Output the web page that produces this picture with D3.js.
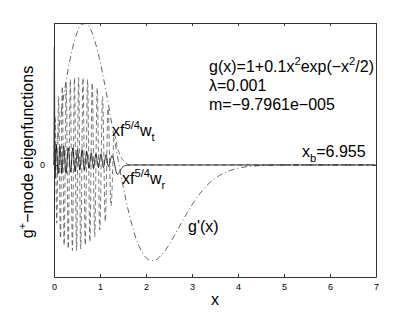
<!DOCTYPE html>
<html>
<head>
<script src="https://d3js.org/d3.v7.min.js"></script>
<style>body{margin:0;background:#fff}</style>
</head>
<body>
<svg width="415" height="313"></svg>
<script>
// axis ticks
var xTicks = [0, 1, 2, 3, 4, 5, 6, 7];
var yTicks = [0];

// g'(x)
var gpX = [0, 0.1, 0.2, 0.3, 0.4, 0.5, 0.6, 0.7, 0.8, 0.9, 1.0, 1.1, 1.2, 1.3, 1.4, 1.5, 1.6, 1.7, 1.8, 1.9,
           2.0, 2.1, 2.2, 2.3, 2.4, 2.5, 2.6, 2.7, 2.8, 2.9, 3.0, 3.2, 3.4, 3.6, 3.8, 4.0, 4.4, 4.8, 5.2, 6.0, 7.0];
var gpY = [0, 0.0198, 0.0384, 0.0548, 0.0679, 0.0772, 0.0822, 0.0827, 0.0790, 0.0714, 0.0607, 0.0475, 0.0327,
           0.0173, 0.0021, -0.0122, -0.0249, -0.0357, -0.0442, -0.0503, -0.0541, -0.0558, -0.0556, -0.0537,
           -0.0506, -0.0467, -0.0421, -0.0373, -0.0324, -0.0277, -0.0233, -0.0158, -0.0100, -0.0061, -0.0035,
           -0.0019, -0.0005, -0.0001, 0, 0, 0];

// x f^{5/4} w_t (dashed): turning points
var wtX = [0, 0.025, 0.06, 0.10, 0.14, 0.18, 0.22, 0.265, 0.31, 0.355, 0.40, 0.445, 0.49, 0.535, 0.58,
           0.63, 0.68, 0.73, 0.78, 0.83, 0.885, 0.94, 0.995, 1.055, 1.115, 1.175, 1.24, 1.31, 1.38, 1.45,
           1.55, 1.65, 6.955];
var wtY = [0, 0.028, -0.034, 0.040, -0.043, 0.046, -0.047, 0.048, -0.049, 0.050, -0.050, 0.051, -0.050,
           0.051, -0.049, 0.051, -0.047, 0.050, -0.045, 0.048, -0.042, 0.045, -0.038, 0.040, -0.033, 0.033,
           -0.024, 0.018, 0.010, 0.005, 0.0015, 0, 0];

// x f^{5/4} w_r (solid): turning points
var wrX = [0, 0.008, 0.02, 0.05, 0.09, 0.13, 0.17, 0.21, 0.26, 0.31, 0.36, 0.41, 0.46, 0.51, 0.56, 0.61,
           0.66, 0.71, 0.76, 0.81, 0.86, 0.91, 0.965, 1.02, 1.075, 1.13, 1.185, 1.26, 1.38, 1.48, 1.58, 1.70, 6.955];
var wrY = [0, 0.069, -0.008, 0.012, -0.005, 0.011, -0.005, 0.011, -0.005, 0.010, -0.004, 0.010, -0.004,
           0.009, -0.003, 0.009, -0.003, 0.008, -0.002, 0.007, -0.002, 0.0065, -0.0015, 0.0065, -0.0015,
           0.006, -0.001, 0.0055, -0.0055, -0.0015, -0.0002, 0, 0];

var svg = d3.select("svg"),
    padL = 54, padR = 376, padT = 23, padB = 277;

var x = d3.scaleLinear().domain([0, 7]).range([padL, padR]);
var y = d3.scaleLinear().domain([-0.0655, 0.0830]).range([padB, padT]);

var font = "'Liberation Sans', Arial, sans-serif";

function pts(xs, ys) {
    return xs.map(function(d, i) { return [d, ys[i]]; });
}

var line = d3.line()
    .x(function(d) { return x(d[0]); })
    .y(function(d) { return y(d[1]); })
    .curve(d3.curveMonotoneX);

var plot = svg.append("g");

plot.append("path")
    .attr("d", line(pts(gpX, gpY)))
    .attr("fill", "none").attr("stroke", "#222").attr("stroke-width", 0.7)
    .attr("stroke-dasharray", "6,3,1,3");

plot.append("path")
    .attr("d", line(pts(wtX, wtY)))
    .attr("fill", "none").attr("stroke", "#333").attr("stroke-width", 0.65)
    .attr("stroke-dasharray", "5,3");

plot.append("path")
    .attr("d", line(pts(wrX, wrY)))
    .attr("fill", "none").attr("stroke", "#000").attr("stroke-width", 0.8);

// axes box with inward ticks
var xAxisB = d3.axisBottom(x).tickValues(xTicks).tickSizeInner(-3).tickSizeOuter(0).tickPadding(7).tickFormat(d3.format("d"));
var xAxisT = d3.axisTop(x).tickValues(xTicks).tickSizeInner(-3).tickSizeOuter(0).tickFormat("");
var yAxisL = d3.axisLeft(y).tickValues(yTicks).tickSizeInner(-3).tickSizeOuter(0).tickPadding(9).tickFormat(d3.format("d"));
var yAxisR = d3.axisRight(y).tickValues(yTicks).tickSizeInner(-3).tickSizeOuter(0).tickFormat("");

svg.append("g").attr("transform", "translate(0," + padB + ")").call(xAxisB);
svg.append("g").attr("transform", "translate(0," + padT + ")").call(xAxisT);
svg.append("g").attr("transform", "translate(" + padL + ",0)").call(yAxisL);
svg.append("g").attr("transform", "translate(" + padR + ",0)").call(yAxisR);

svg.selectAll(".domain").attr("stroke", "#333");
svg.selectAll(".tick line").attr("stroke", "#333");
svg.selectAll(".tick text").style("font-family", font).style("font-size", "9px").attr("fill", "#000");

// text with super/subscripts: parts are [text, shift] where shift is "sup", "sub" or ""
function rich(px, py, parts, size) {
    var t = svg.append("text").attr("x", px).attr("y", py)
        .style("font-family", font).style("font-size", size + "px");
    var cur = 0;
    parts.forEach(function(p) {
        var target = p[1] === "sup" ? -0.42 * size : p[1] === "sub" ? 0.3 * size : 0;
        t.append("tspan").attr("dy", target - cur)
            .style("font-size", (p[1] ? 0.7 * size : size) + "px")
            .text(p[0]);
        cur = target;
    });
    return t;
}

rich(209, 72, [["g(x)=1+0.1x", ""], ["2", "sup"], ["exp(\u2212x", ""], ["2", "sup"], ["/2)", ""]], 16);
rich(209, 91, [["\u03bb=0.001", ""]], 16);
rich(209, 110, [["m=\u22129.7961e\u2212005", ""]], 16);
rich(112, 136, [["xf", ""], ["5/4", "sup"], ["w", ""], ["t", "sub"]], 16);
rich(122, 184, [["xf", ""], ["5/4", "sup"], ["w", ""], ["r", "sub"]], 16);
rich(302, 157, [["x", ""], ["b", "sub"], ["=6.955", ""]], 16);
rich(188, 232, [["g'(x)", ""]], 16);

// axis labels
svg.append("text").attr("x", (padL + padR) / 2).attr("y", 305)
    .attr("text-anchor", "middle")
    .style("font-family", font).style("font-size", "16px").text("x");

var yl = svg.append("g").attr("transform", "translate(33," + ((padT + padB) / 2 + 2) + ") rotate(-90)");
var ylt = yl.append("text").attr("text-anchor", "middle")
    .style("font-family", font).style("font-size", "16px");
ylt.append("tspan").text("g");
ylt.append("tspan").attr("dy", -7).style("font-size", "11px").text("+");
ylt.append("tspan").attr("dy", 7).text("\u2212mode eigenfunctions");
</script>
</body>
</html>
